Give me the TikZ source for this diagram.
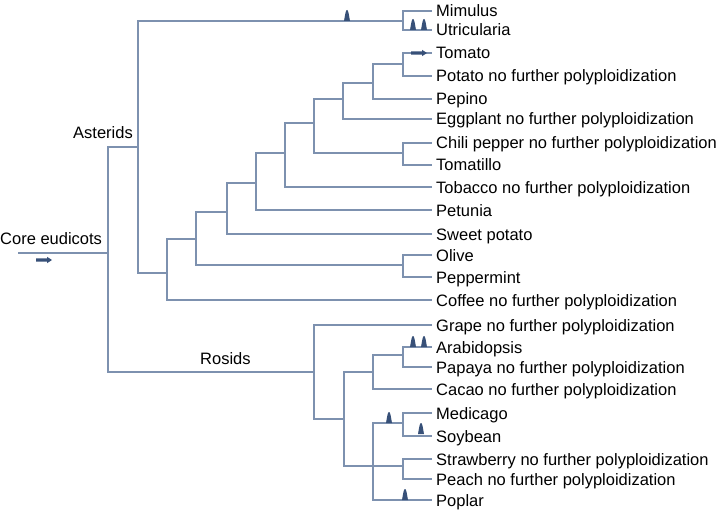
\documentclass[tikz,border=0pt]{standalone}
\usepackage{fontspec}
\setmainfont{Liberation Sans}
\definecolor{branch}{RGB}{125,145,175}
\definecolor{markc}{RGB}{55,80,120}
\begin{document}
\begin{tikzpicture}[x=1pt,y=-1pt,
  br/.style={draw=branch,line width=1.9pt},
  leaf/.style={anchor=base west,inner sep=0pt,font=\fontsize{16.5}{18}\selectfont},
  spike/.pic={\fill[markc] (-3,0) .. controls (-1.9,-6) and (-1.4,-11) .. (0,-11) .. controls (1.4,-11) and (1.9,-6) .. (3,0) -- cycle;},
  darrow/.pic={\fill[markc] (0,-1.7) -- (11,-1.7) -- (11,-3.2) -- (16,0) -- (11,3.2) -- (11,1.7) -- (0,1.7) -- cycle;}
]
\useasboundingbox (0,0) rectangle (719,513);
% ---- leaves ----
\foreach \n/\y/\t in {
 mim/11/Mimulus, utr/30/Utricularia, tom/53/Tomato, pot/76/Potato no further polyploidization,
 pep/99/Pepino, egg/119/Eggplant no further polyploidization, chi/143/Chili pepper no further polyploidization,
 tmt/165/Tomatillo, tob/187/Tobacco no further polyploidization, pet/210/Petunia,
 swp/234/Sweet potato, oli/255/Olive, ppm/277/Peppermint, cof/300/Coffee no further polyploidization,
 gra/325/Grape no further polyploidization, ara/347/Arabidopsis, pap/367/Papaya no further polyploidization,
 cac/389/Cacao no further polyploidization, med/413/Medicago, soy/436/Soybean,
 str/459/Strawberry no further polyploidization, pea/479/Peach no further polyploidization, pop/500/Poplar}
{
 \coordinate (\n) at (432,\y);
 \node[leaf] (\n L) at (436,\y+6) {\t};
}
% ---- internal nodes ----
\coordinate (start) at (18,253);
\coordinate (root) at (108,253);
\coordinate (ast) at (138,147);
\coordinate (lam) at (403,21);
\coordinate (a167) at (167,273);
\coordinate (a196) at (196,239);
\coordinate (op) at (403,265);
\coordinate (a227) at (227,212);
\coordinate (a256) at (256,183);
\coordinate (a285) at (285,153);
\coordinate (a314) at (314,123);
\coordinate (ct) at (403,153);
\coordinate (a343) at (343,99);
\coordinate (a373) at (373,83);
\coordinate (tp) at (403,64);
\coordinate (ros) at (314,372);
\coordinate (r344) at (344,419);
\coordinate (r373a) at (373,372);
\coordinate (ap) at (403,355);
\coordinate (r373b) at (373,466);
\coordinate (ms) at (403,423);
\coordinate (sp) at (403,466);
% ---- branches ----
\draw[br] (start) -- (root);
\foreach \p/\c in {root/ast, root/ros,
  ast/lam, ast/a167, lam/mim, lam/utr,
  a167/a196, a167/cof, a196/a227, a196/op, op/oli, op/ppm,
  a227/a256, a227/swp, a256/a285, a256/pet, a285/a314, a285/tob,
  a314/a343, a314/ct, ct/chi, ct/tmt, a343/a373, a343/egg,
  a373/tp, a373/pep, tp/tom, tp/pot,
  ros/gra, ros/r344, r344/r373a, r344/r373b,
  r373a/ap, r373a/cac, ap/ara, ap/pap,
  r373b/ms, r373b/sp, r373b/pop, ms/med, ms/soy, sp/str, sp/pea}
  \draw[br] (\p) |- (\c);
% ---- group labels ----
\node[leaf] (coreL) at (0,244) {Core eudicots};
\node[leaf] (astL) at (73,139) {Asterids};
\node[leaf] (rosL) at (200,364) {Rosids};
% ---- arrows ----
\pic at (36,260) {darrow};
\pic at (411,53) {darrow};
% ---- duplication marks ----
\pic at (347,21) {spike};
\pic at (413,30) {spike};
\pic at (424,30) {spike};
\pic at (413,347) {spike};
\pic at (424,347) {spike};
\pic at (389,423) {spike};
\pic at (421,434) {spike};
\pic at (405,500) {spike};
\end{tikzpicture}
\end{document}
